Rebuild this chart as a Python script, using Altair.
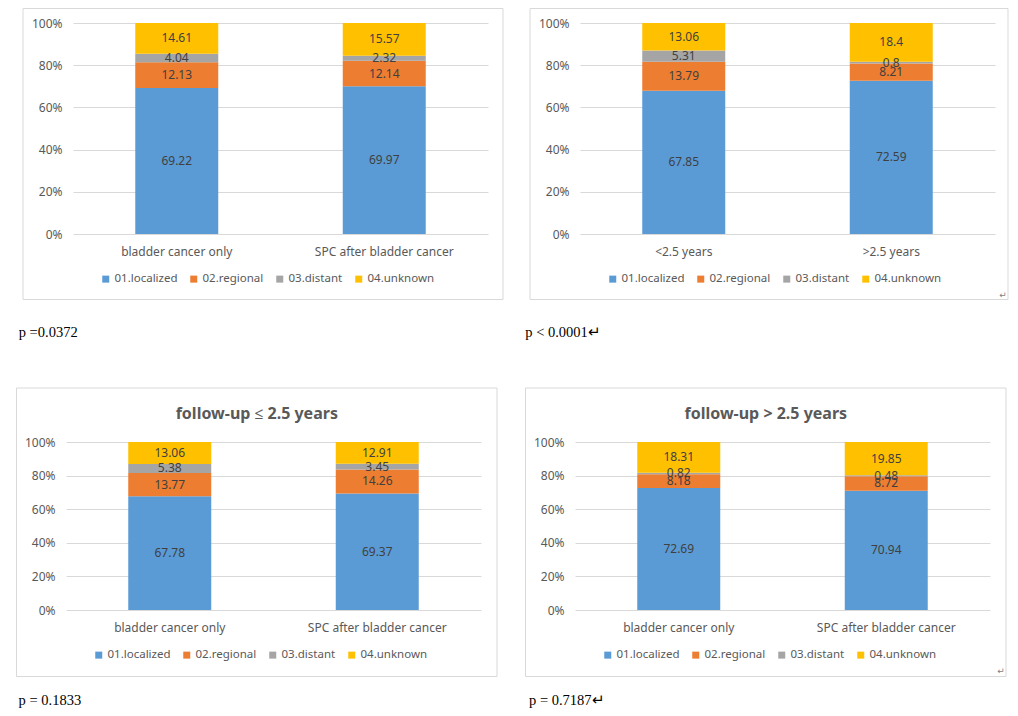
import altair as alt
import pandas as pd

# ---------------- data ----------------
stages = ["01.localized", "02.regional", "03.distant", "04.unknown"]
stage_colors = ["#5B9BD5", "#ED7D31", "#A5A5A5", "#FFC000"]

p1_categories = ["bladder cancer only", "SPC after bladder cancer"]
p1_localized = [69.22, 69.97]
p1_regional = [12.13, 12.14]
p1_distant = [4.04, 2.32]
p1_unknown = [14.61, 15.57]

p2_categories = ["<2.5 years", ">2.5 years"]
p2_localized = [67.85, 72.59]
p2_regional = [13.79, 8.21]
p2_distant = [5.31, 0.8]
p2_unknown = [13.06, 18.4]

p3_categories = ["bladder cancer only", "SPC after bladder cancer"]
p3_localized = [67.78, 69.37]
p3_regional = [13.77, 14.26]
p3_distant = [5.38, 3.45]
p3_unknown = [13.06, 12.91]

p4_categories = ["bladder cancer only", "SPC after bladder cancer"]
p4_localized = [72.69, 70.94]
p4_regional = [8.18, 8.72]
p4_distant = [0.82, 0.48]
p4_unknown = [18.31, 19.85]

panel_titles = ["", "", "follow-up ≤ 2.5 years", "follow-up > 2.5 years"]
p_values = ["p =0.0372", "p < 0.0001↵", "p = 0.1833", "p = 0.7187↵"]
y_ticks = [0, 0.2, 0.4, 0.6, 0.8, 1.0]

FONT = "Noto Sans"
GRAY = "#595959"


def make_df(cats, loc, reg, dis, unk):
    rows = []
    for ci, c in enumerate(cats):
        for si, vals in enumerate([loc, reg, dis, unk]):
            rows.append({"category": c, "stage": stages[si], "ord": si, "value": vals[ci]})
    return pd.DataFrame(rows)


def panel(df, cats, height, title, ptext, pxy, box, legend_y, ret=None):
    base = alt.Chart(df).transform_window(
        cum="sum(value)", groupby=["category"], sort=[alt.SortField("ord")], frame=[None, 0]
    ).transform_calculate(
        frac="datum.value / 100", mid="(datum.cum - datum.value / 2) / 100"
    )
    xenc = alt.X(
        "category:N", sort=cats,
        scale=alt.Scale(paddingInner=0.6, paddingOuter=0.3),
        axis=alt.Axis(title=None, labelAngle=0, domain=False, ticks=False, grid=False,
                      labelPadding=12, labelFontSize=12, labelColor=GRAY, labelFont=FONT),
    )
    yscale = alt.Scale(domain=[0, 1], nice=False)
    bars = base.mark_bar().encode(
        x=xenc,
        y=alt.Y("frac:Q", stack="zero", scale=yscale,
                axis=alt.Axis(title=None, format=".0%", values=y_ticks, tickCount=len(y_ticks),
                              labelOverlap=False, domain=False, ticks=False, grid=True,
                              gridColor="#D9D9D9", gridWidth=1, labelPadding=11,
                              labelFontSize=12, labelColor=GRAY, labelFont=FONT)),
        color=alt.Color("stage:N", scale=alt.Scale(domain=stages, range=stage_colors),
                        legend=alt.Legend(title=None, orient="none", direction="horizontal",
                                          legendX=27, legendY=legend_y, symbolType="square",
                                          symbolSize=49, symbolStrokeWidth=0,
                                          labelFont=FONT, labelFontSize=11.5, labelColor=GRAY,
                                          columnPadding=10, labelOffset=3, padding=0)),
        order=alt.Order("ord:Q", sort="ascending"),
    )
    labels = base.mark_text(font=FONT, fontSize=12, color="#404040", baseline="middle").encode(
        x=alt.X("category:N", sort=cats),
        y=alt.Y("mid:Q", scale=yscale),
        text=alt.Text("value:Q"),
    )
    frame = alt.Chart(pd.DataFrame({"box": [0]})).mark_rect(
        filled=False, stroke="#D9D9D9", strokeWidth=1
    ).encode(x=alt.value(box[0]), x2=alt.value(box[1]), y=alt.value(box[2]), y2=alt.value(box[3]))
    ptxt = alt.Chart(pd.DataFrame({"p": [ptext]})).mark_text(
        font="Liberation Serif", fontSize=14.5, align="left", baseline="alphabetic", color="#000000"
    ).encode(x=alt.value(pxy[0]), y=alt.value(pxy[1]), text="p:N")
    layers = [frame, bars, labels, ptxt]
    if ret is not None:
        layers.append(
            alt.Chart(pd.DataFrame({"m": ["↵"]})).mark_text(
                font="DejaVu Sans", fontSize=9, color="#7F7F7F", align="center", baseline="middle"
            ).encode(x=alt.value(ret[0]), y=alt.value(ret[1]), text="m:N")
        )
    ch = alt.layer(*layers).properties(width=415, height=height)
    if title:
        ch = ch.properties(title=alt.TitleParams(title, font=FONT, fontSize=16, fontWeight="bold",
                                                 color=GRAY, anchor="middle", frame="group",
                                                 baseline="middle", offset=-42.5, dx=-16.7))
    return ch


def spacer(w):
    return alt.Chart(pd.DataFrame({"s": [0]})).mark_point(opacity=0, size=1).properties(
        width=w, height=1)


df1 = make_df(p1_categories, p1_localized, p1_regional, p1_distant, p1_unknown)
df2 = make_df(p2_categories, p2_localized, p2_regional, p2_distant, p2_unknown)
df3 = make_df(p3_categories, p3_localized, p3_regional, p3_distant, p3_unknown)
df4 = make_df(p4_categories, p4_localized, p4_regional, p4_distant, p4_unknown)

c1 = panel(df1, p1_categories, 211, panel_titles[0], p_values[0], (-54.3, 313.8),
           (-50, 430, -14.5, 276.5), 250)
c2 = panel(df2, p2_categories, 211, panel_titles[1], p_values[1], (-54.7, 313.8),
           (-50, 428, -14.5, 276.5), 250, ret=(423, 272))
c3 = panel(df3, p3_categories, 168, panel_titles[2], p_values[2], (-47.4, 263),
           (-49.5, 431, -54, 234.5), 207)
c4 = panel(df4, p4_categories, 168, panel_titles[3], p_values[3], (-46, 263),
           (-49.5, 431, -54, 234.5), 207, ret=(426, 229))

top = alt.hconcat(spacer(7), c1, spacer(92), c2, spacing=0, bounds="flush").resolve_scale(
    color="independent").resolve_legend(color="independent")
bottom = alt.hconcat(c3, c4, spacing=94, bounds="flush").resolve_scale(
    color="independent").resolve_legend(color="independent")

chart = alt.vconcat(top, bottom, spacing=47, bounds="full").resolve_scale(
    color="independent").resolve_legend(color="independent").configure_view(
    stroke=None).properties(
    padding={"left": 8, "top": 0, "right": 0, "bottom": 0}, background="white")

chart.save("out.html", embed_options={"renderer": "svg", "actions": False})
